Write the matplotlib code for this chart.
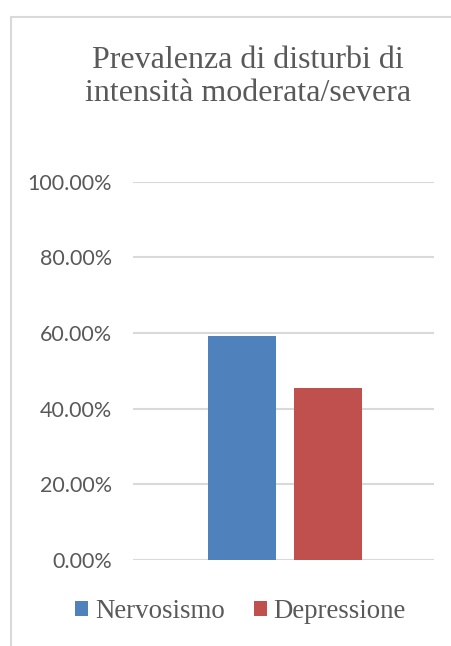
import matplotlib
matplotlib.use("Agg")
import matplotlib.pyplot as plt
from matplotlib.patches import Rectangle
from matplotlib.ticker import FuncFormatter

categories = ["Nervosismo", "Depressione"]
values = [0.592, 0.454]
colors = ["#4F81BD", "#C0504D"]
yticks = [0.0, 0.2, 0.4, 0.6, 0.8, 1.0]
title = "Prevalenza di disturbi di\nintensità moderata/severa"

W, H = 451, 646
fig = plt.figure(figsize=(W / 100, H / 100), dpi=100)
fig.patch.set_facecolor("white")

# outer chart frame (continues past the right and bottom edges)
fig.patches.append(Rectangle((11 / W, -0.05), 1.2, 1 - 17 / H + 0.05,
                             transform=fig.transFigure, fill=False,
                             edgecolor="#D9D9D9", linewidth=1.5))

ax = fig.add_axes([133 / W, 1 - 560 / H, (434 - 133) / W, (560 - 181.5) / H])
xs = list(range(len(categories)))
bars = ax.bar(xs, values, width=0.79, color=colors, zorder=3)
ax.set_xlim(-1.267, 2.233)
ax.set_ylim(0, 1.0)
ax.set_yticks(yticks)
ax.yaxis.set_major_formatter(FuncFormatter(lambda v, _: f"{v * 100:.2f}%"))
ax.grid(axis="y", color="#D9D9D9", linewidth=1.5, zorder=0)
ax.set_xticks([])
for s in ax.spines.values():
    s.set_visible(False)
ax.tick_params(axis="y", length=0, pad=15, labelsize=15.5, labelcolor="#595959")
for lab in ax.get_yticklabels():
    lab.set_family("Lato")

fig.text(248 / W, 1 - 77 / H, title, ha="center", va="center",
         family="Liberation Serif", fontsize=23, color="#595959",
         linespacing=1.22)

leg = fig.legend(bars, categories, loc="center", bbox_to_anchor=(240.5 / W, 1 - 612 / H),
                 ncol=2, frameon=False, handlelength=0.48, handleheight=0.48,
                 handletextpad=0.26, columnspacing=1.07, borderpad=0,
                 prop={"family": "Liberation Serif", "size": 19.4})
for t in leg.get_texts():
    t.set_color("#595959")

fig.savefig("out.png", dpi=100, facecolor="white")
